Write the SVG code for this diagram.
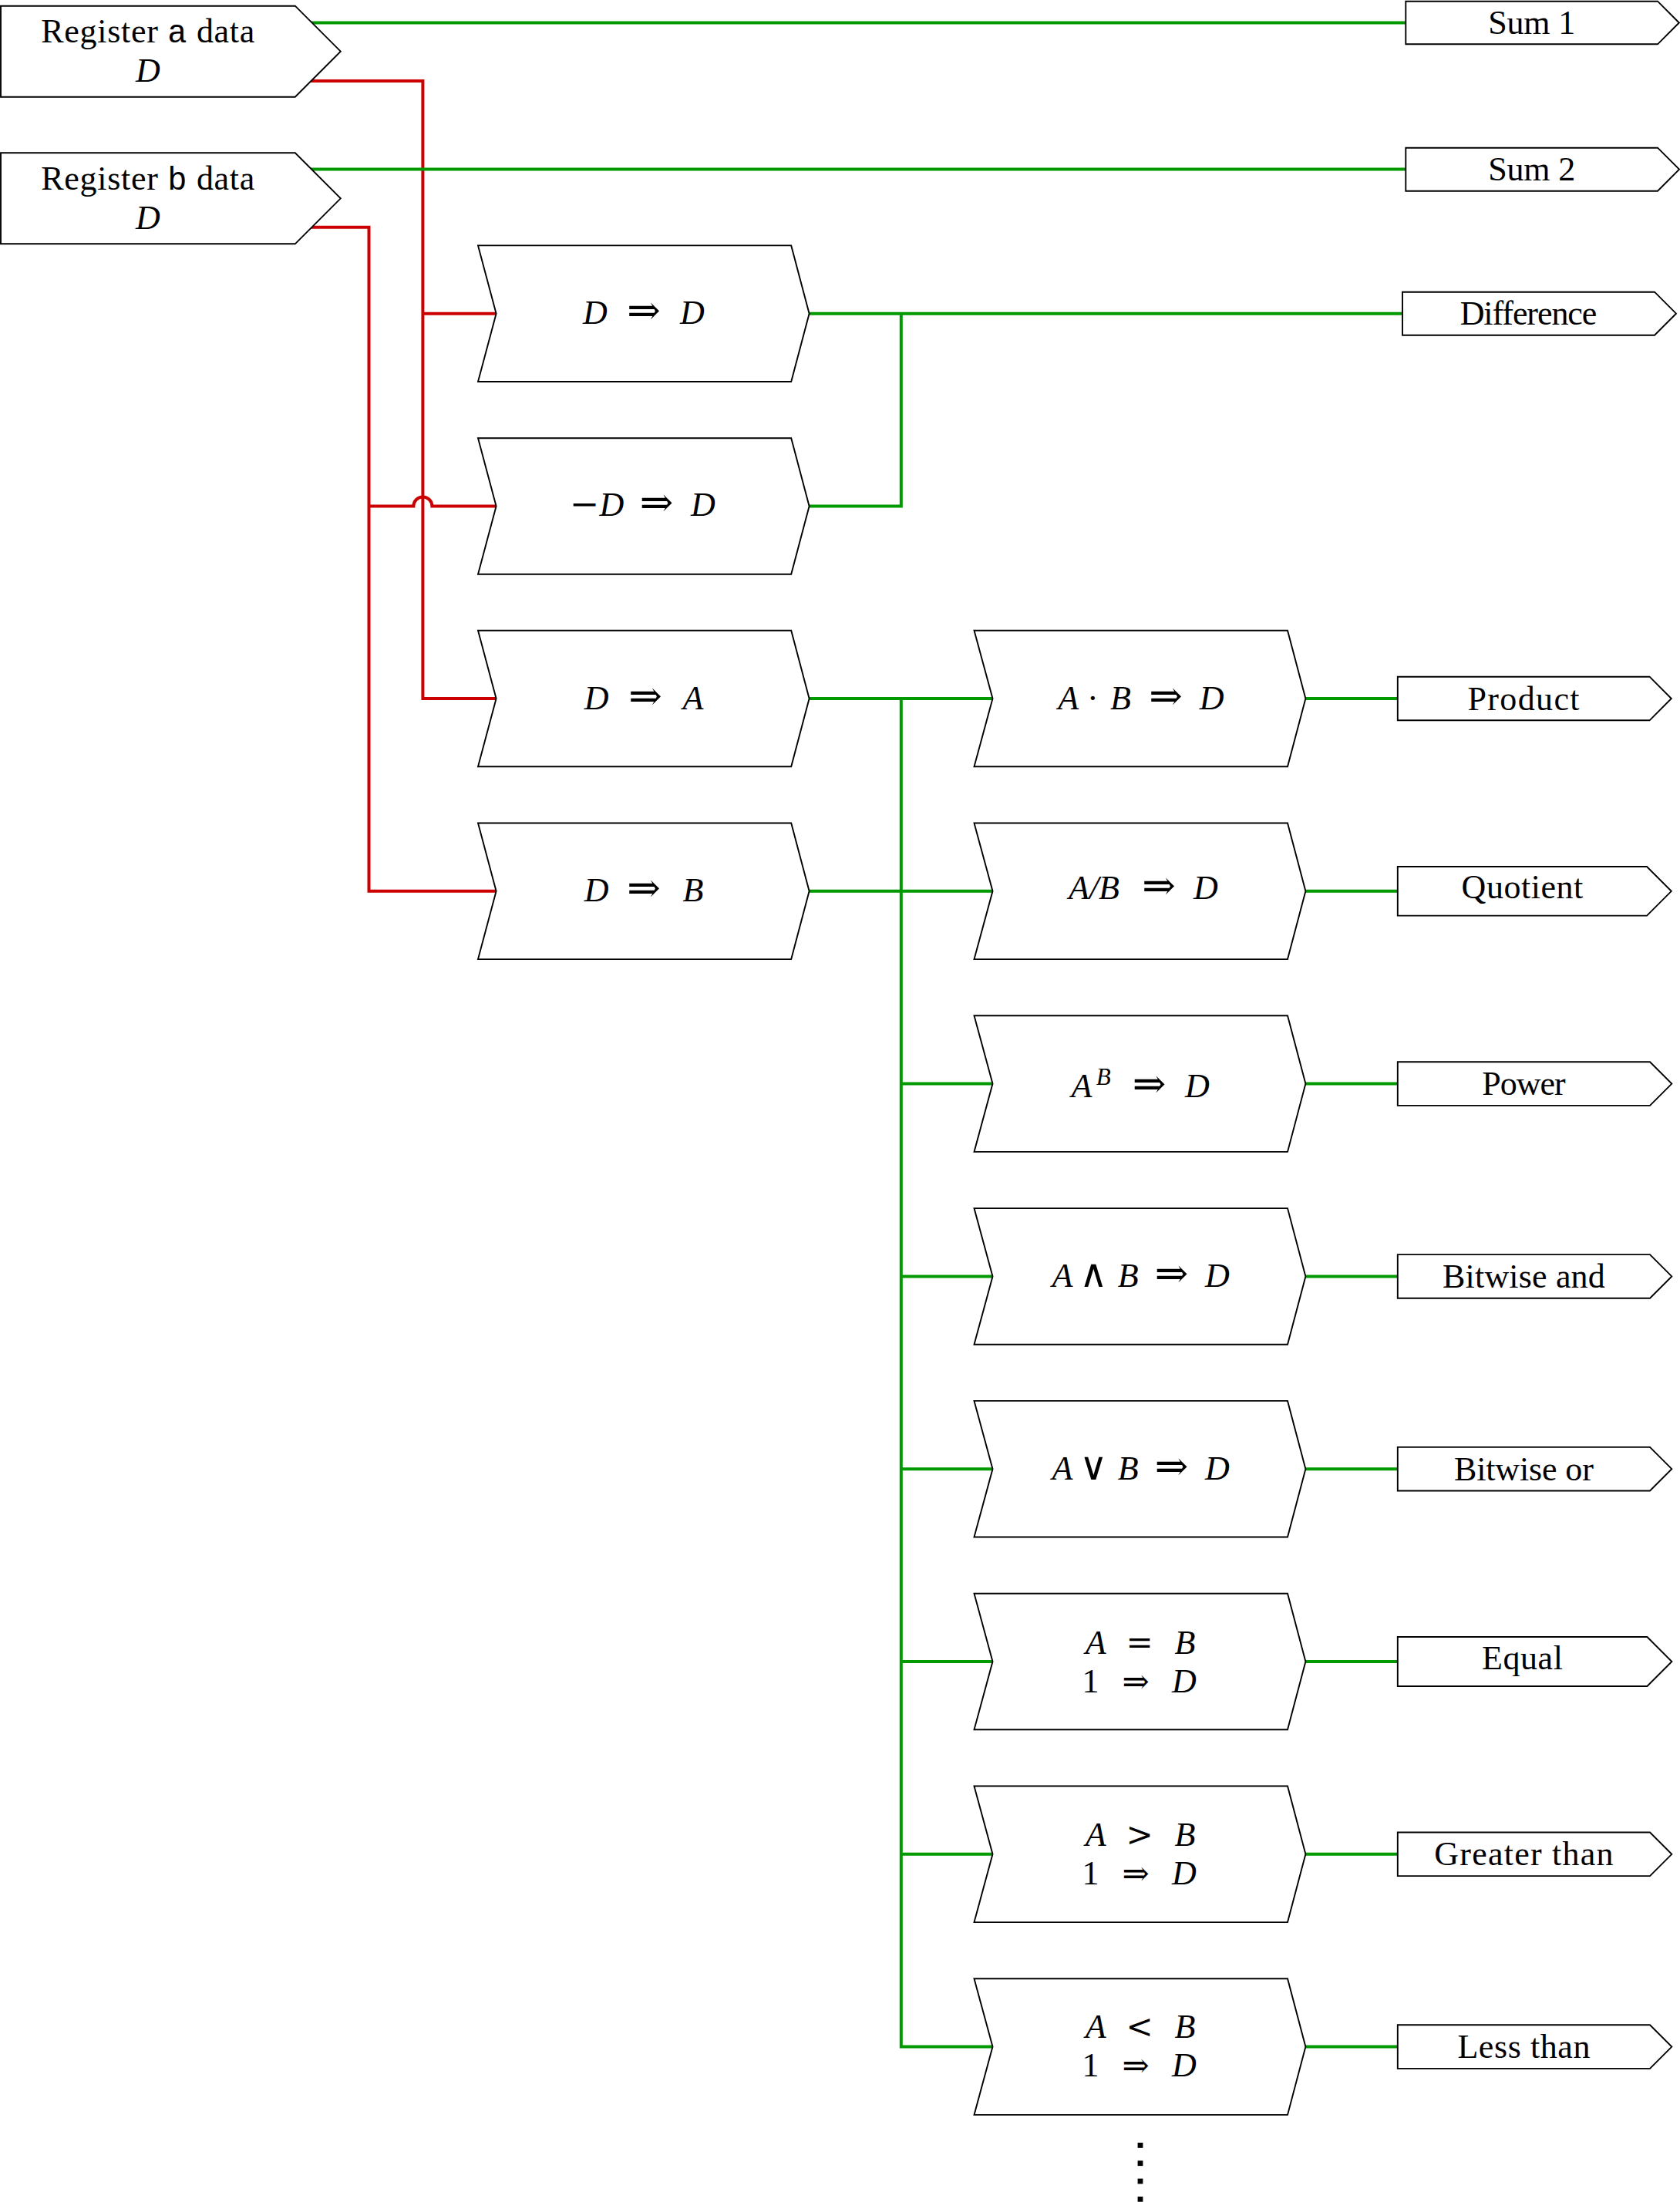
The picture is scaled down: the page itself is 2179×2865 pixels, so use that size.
<svg xmlns="http://www.w3.org/2000/svg" width="2179" height="2865" viewBox="0 0 2179 2865">
  <style>
    .node { fill: #fff; stroke: #000; stroke-width: 1.9; stroke-linejoin: miter; }
    .red { fill: none; stroke: #cc0000; stroke-width: 4; }
    .grn { fill: none; stroke: #009900; stroke-width: 4; }
    text { font-family: "Liberation Serif", "DejaVu Serif", serif; font-size: 44px; fill: #000; text-anchor: middle; }
    .i { font-style: italic; font-size: 44px; }
    .op { font-family: "DejaVu Serif", serif; font-size: 46px; }
    .lg { font-family: "DejaVu Serif", serif; font-size: 50px; }
    .arr { font-family: "DejaVu Serif", serif; font-size: 52px; }
    .sm { font-family: "DejaVu Serif", serif; font-size: 42px; }
    .tt { font-family: "Liberation Mono", "DejaVu Sans Mono", monospace; font-size: 42px; }
    .sup { font-size: 31px; }
    .dot { fill: #000; }
  </style>

  <!-- wiring: red = register inputs, green = results -->
  <g id="connectors">
    <g id="red-wires">
      <path class="red" d="M395,105 H548.4 V906 H645"/>
      <path class="red" d="M548.4,406.7 H645"/>
      <path class="red" d="M395,294.7 H478.5 V1155.8 H645"/>
      <path class="red" d="M478.5,656.5 H536.4 A12,12 0 0 1 560.4,656.5 H645"/>
    </g>
    <g id="green-wires">
      <path class="grn" d="M395,29.4 H1825"/>
      <path class="grn" d="M395,219.5 H1825"/>
      <path class="grn" d="M1048,406.7 H1821"/>
      <path class="grn" d="M1048,656.5 H1168.8 V406.7"/>
      <path class="grn" d="M1048,906 H1289"/>
      <path class="grn" d="M1048,1155.8 H1289"/>
      <path class="grn" d="M1168.8,906 V2654.6 H1289"/>
      <path class="grn" d="M1168.8,1405.6 H1289"/>
      <path class="grn" d="M1168.8,1655.4 H1289"/>
      <path class="grn" d="M1168.8,1905.2 H1289"/>
      <path class="grn" d="M1168.8,2155 H1289"/>
      <path class="grn" d="M1168.8,2404.8 H1289"/>
      <path class="grn" d="M1692,906 H1814"/>
      <path class="grn" d="M1692,1155.8 H1814"/>
      <path class="grn" d="M1692,1405.6 H1814"/>
      <path class="grn" d="M1692,1655.4 H1814"/>
      <path class="grn" d="M1692,1905.2 H1814"/>
      <path class="grn" d="M1692,2155 H1814"/>
      <path class="grn" d="M1692,2404.8 H1814"/>
      <path class="grn" d="M1692,2654.6 H1814"/>
    </g>
  </g>

  <!-- register sources -->
  <g id="reg-a">
    <path class="node" d="M1,7.7 H382.8 L441.8,66.7 L382.8,125.7 H1 Z"/>
    <text x="191.8" y="55" textLength="277" lengthAdjust="spacing">Register <tspan class="tt">a</tspan> data</text>
    <text class="i" x="191.8" y="106">D</text>
  </g>
  <g id="reg-b">
    <path class="node" d="M1,198.3 H382.8 L441.8,257.3 L382.8,316.3 H1 Z"/>
    <text x="191.8" y="246" textLength="277" lengthAdjust="spacing">Register <tspan class="tt">b</tspan> data</text>
    <text class="i" x="191.8" y="296.7">D</text>
  </g>

  <!-- loading stages -->
  <g id="load-d">
    <path class="node" d="M620,318.4 H1026.2 L1049.6,406.7 L1026.2,495 H620 L643.6,406.7 Z"/>
    <text y="420.2"><tspan class="i" x="772">D</tspan><tspan class="arr" x="835">⇒</tspan><tspan class="i" x="898">D</tspan></text>
  </g>
  <g id="load-neg-d">
    <path class="node" d="M620,568.2 H1026.2 L1049.6,656.5 L1026.2,744.8 H620 L643.6,656.5 Z"/>
    <text y="669"><tspan x="774"><tspan class="op">−</tspan><tspan class="i">D</tspan></tspan><tspan class="arr" x="851.5">⇒</tspan><tspan class="i" x="912">D</tspan></text>
  </g>
  <g id="load-a">
    <path class="node" d="M620,817.7 H1026.2 L1049.6,906 L1026.2,994.3 H620 L643.6,906 Z"/>
    <text y="919.5"><tspan class="i" x="773.6">D</tspan><tspan class="arr" x="837">⇒</tspan><tspan class="i" x="899">A</tspan></text>
  </g>
  <g id="load-b">
    <path class="node" d="M620,1067.5 H1026.2 L1049.6,1155.8 L1026.2,1244.1 H620 L643.6,1155.8 Z"/>
    <text y="1169.3"><tspan class="i" x="773.6">D</tspan><tspan class="arr" x="835">⇒</tspan><tspan class="i" x="899">B</tspan></text>
  </g>

  <!-- operations -->
  <g id="op-mul">
    <path class="node" d="M1263.5,817.7 H1670 L1693.4,906 L1670,994.3 H1263.5 L1287.5,906 Z"/>
    <text y="919.5"><tspan class="i" x="1385.7">A</tspan><tspan x="1417.3">·</tspan><tspan class="i" x="1453.4">B</tspan><tspan class="arr" x="1512">⇒</tspan><tspan class="i" x="1571.6">D</tspan></text>
  </g>
  <g id="op-div">
    <path class="node" d="M1263.5,1067.5 H1670 L1693.4,1155.8 L1670,1244.1 H1263.5 L1287.5,1155.8 Z"/>
    <text y="1166"><tspan x="1419"><tspan class="i">A</tspan><tspan class="i">/</tspan><tspan class="i">B</tspan></tspan><tspan class="arr" x="1503">⇒</tspan><tspan class="i" x="1564">D</tspan></text>
  </g>
  <g id="op-pow">
    <path class="node" d="M1263.5,1317.3 H1670 L1693.4,1405.6 L1670,1493.9 H1263.5 L1287.5,1405.6 Z"/>
    <text y="1422.7"><tspan class="i" x="1403">A</tspan><tspan class="i sup" x="1431.3" y="1407.3">B</tspan><tspan class="arr" x="1490.5" y="1422.7">⇒</tspan><tspan class="i" x="1552.8">D</tspan></text>
  </g>
  <g id="op-and">
    <path class="node" d="M1263.5,1567.1 H1670 L1693.4,1655.4 L1670,1743.7 H1263.5 L1287.5,1655.4 Z"/>
    <text y="1669.3"><tspan class="i" x="1378">A</tspan><tspan class="lg" x="1418.3">∧</tspan><tspan class="i" x="1463.3">B</tspan><tspan class="arr" x="1519.5">⇒</tspan><tspan class="i" x="1578.8">D</tspan></text>
  </g>
  <g id="op-or">
    <path class="node" d="M1263.5,1816.9 H1670 L1693.4,1905.2 L1670,1993.5 H1263.5 L1287.5,1905.2 Z"/>
    <text y="1918.5"><tspan class="i" x="1378">A</tspan><tspan class="lg" x="1418.3">∨</tspan><tspan class="i" x="1463.3">B</tspan><tspan class="arr" x="1519.5">⇒</tspan><tspan class="i" x="1578.8">D</tspan></text>
  </g>
  <g id="op-eq">
    <path class="node" d="M1263.5,2066.7 H1670 L1693.4,2155 L1670,2243.3 H1263.5 L1287.5,2155 Z"/>
    <text y="2144.5"><tspan class="i" x="1421.3">A</tspan><tspan class="sm" x="1478">=</tspan><tspan class="i" x="1537">B</tspan></text>
    <text y="2194.5"><tspan x="1414.6">1</tspan><tspan class="sm" x="1473">⇒</tspan><tspan class="i" x="1536">D</tspan></text>
  </g>
  <g id="op-gt">
    <path class="node" d="M1263.5,2316.5 H1670 L1693.4,2404.8 L1670,2493.1 H1263.5 L1287.5,2404.8 Z"/>
    <text y="2393.8"><tspan class="i" x="1421.3">A</tspan><tspan class="sm" x="1478">&gt;</tspan><tspan class="i" x="1537">B</tspan></text>
    <text y="2443.8"><tspan x="1414.6">1</tspan><tspan class="sm" x="1473">⇒</tspan><tspan class="i" x="1536">D</tspan></text>
  </g>
  <g id="op-lt">
    <path class="node" d="M1263.5,2566.3 H1670 L1693.4,2654.6 L1670,2742.9 H1263.5 L1287.5,2654.6 Z"/>
    <text y="2643.3"><tspan class="i" x="1421.3">A</tspan><tspan class="sm" x="1478">&lt;</tspan><tspan class="i" x="1537">B</tspan></text>
    <text y="2693.3"><tspan x="1414.6">1</tspan><tspan class="sm" x="1473">⇒</tspan><tspan class="i" x="1536">D</tspan></text>
  </g>

  <!-- more operations follow -->
  <g id="ellipsis">
    <rect class="dot" x="1475.6" y="2779" width="6.8" height="6.8"/>
    <rect class="dot" x="1475.6" y="2802.3" width="6.8" height="6.8"/>
    <rect class="dot" x="1475.6" y="2825.6" width="6.8" height="6.8"/>
    <rect class="dot" x="1475.6" y="2848.9" width="6.8" height="6.8"/>
  </g>

  <!-- result flags -->
  <g id="out-sum1">
    <path class="node" d="M1823.3,1.7 H2150 L2177.8,29.5 L2150,57.3 H1823.3 Z"/>
    <text x="1986.7" y="44.2" textLength="113" lengthAdjust="spacing">Sum 1</text>
  </g>
  <g id="out-sum2">
    <path class="node" d="M1823.3,191.7 H2150 L2178,219.7 L2150,247.7 H1823.3 Z"/>
    <text x="1986.7" y="234.4" textLength="113" lengthAdjust="spacing">Sum 2</text>
  </g>
  <g id="out-diff">
    <path class="node" d="M1819,378.7 H2146 L2174,406.7 L2146,434.7 H1819 Z"/>
    <text x="1982.5" y="421.4" textLength="177.7" lengthAdjust="spacing">Difference</text>
  </g>
  <g id="out-prod">
    <path class="node" d="M1812.8,877.7 H2139.5 L2167.8,906 L2139.5,934.3 H1812.8 Z"/>
    <text x="1976" y="920.7" textLength="145" lengthAdjust="spacing">Product</text>
  </g>
  <g id="out-quot">
    <path class="node" d="M1812.8,1124 H2136 L2167.8,1155.8 L2136,1187.6 H1812.8 Z"/>
    <text x="1974.4" y="1165.3" textLength="157.6" lengthAdjust="spacing">Quotient</text>
  </g>
  <g id="out-pow">
    <path class="node" d="M1812.8,1377.3 H2140 L2168.3,1405.6 L2140,1433.9 H1812.8 Z"/>
    <text x="1976.4" y="1420.3" textLength="108.3" lengthAdjust="spacing">Power</text>
  </g>
  <g id="out-and">
    <path class="node" d="M1812.8,1627.1 H2140 L2168.3,1655.4 L2140,1683.7 H1812.8 Z"/>
    <text x="1976.4" y="1670.1" textLength="210.7" lengthAdjust="spacing">Bitwise and</text>
  </g>
  <g id="out-or">
    <path class="node" d="M1812.8,1876.9 H2140 L2168.3,1905.2 L2140,1933.5 H1812.8 Z"/>
    <text x="1976.4" y="1919.9" textLength="181" lengthAdjust="spacing">Bitwise or</text>
  </g>
  <g id="out-eq">
    <path class="node" d="M1812.8,2123 H2136.4 L2168.4,2155 L2136.4,2187 H1812.8 Z"/>
    <text x="1974.4" y="2164.6" textLength="105" lengthAdjust="spacing">Equal</text>
  </g>
  <g id="out-gt">
    <path class="node" d="M1812.8,2376.5 H2140 L2168.3,2404.8 L2140,2433.1 H1812.8 Z"/>
    <text x="1976.4" y="2419.4" textLength="232.3" lengthAdjust="spacing">Greater than</text>
  </g>
  <g id="out-lt">
    <path class="node" d="M1812.8,2626.3 H2140 L2168.3,2654.6 L2140,2682.9 H1812.8 Z"/>
    <text x="1976.4" y="2669.2" textLength="172" lengthAdjust="spacing">Less than</text>
  </g>
</svg>
